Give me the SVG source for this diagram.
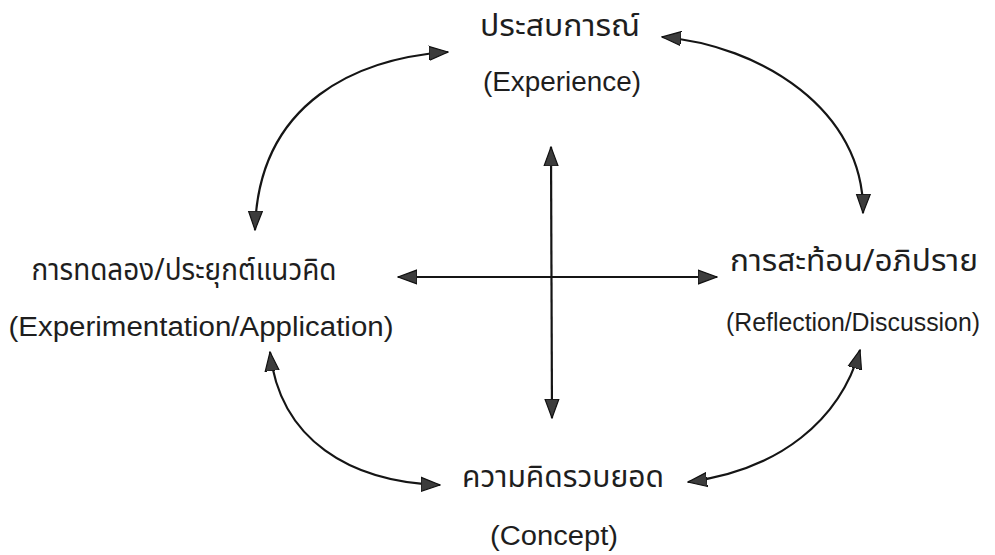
<svg xmlns="http://www.w3.org/2000/svg" width="995" height="555" viewBox="0 0 995 555">
<style>
.th{font-family:"Noto Sans Thai","Noto Serif Thai","Loma","Garuda","Tlwg Typo","Noto Sans","DejaVu Sans",sans-serif;font-size:30px;fill:#1e1e1e;text-anchor:middle}
.en{font-family:"Liberation Sans",Arial,sans-serif;font-size:27px;fill:#1e1e1e;text-anchor:middle}
.c{fill:none;stroke:#151515;stroke-width:2.2;marker-start:url(#ah);marker-end:url(#ah)}
</style>
<defs>
<marker id="ah" markerUnits="userSpaceOnUse" markerWidth="20" markerHeight="16" refX="19" refY="8" orient="auto-start-reverse">
<path d="M0,1 L19,8 L0,15 Z" fill="#3c3c3c" stroke="#111" stroke-width="1.2"/>
</marker>
</defs>
<rect width="995" height="555" fill="#fff"/>
<g id="connectors">
<path class="c" d="M448,52 C360,58 258,100 255,230"/>
<path class="c" d="M662,37 C760,45 865,110 863,213"/>
<path class="c" d="M270,352 C280,440 350,482 440,485"/>
<path class="c" d="M860,350 C840,420 780,470 688,482"/>
<path class="c" d="M551,147 L552,418"/>
<path class="c" d="M398,277 L717,277"/>
</g>
<g id="experience">
<text class="th" x="560" y="36" textLength="160" lengthAdjust="spacingAndGlyphs">ประสบการณ์</text>
<text class="en" x="562" y="91" textLength="158" lengthAdjust="spacingAndGlyphs">(Experience)</text>
</g>
<g id="application">
<text class="th" x="184" y="280" textLength="305" lengthAdjust="spacingAndGlyphs">การทดลอง/ประยุกต์แนวคิด</text>
<text class="en" x="201" y="336" textLength="385" lengthAdjust="spacingAndGlyphs">(Experimentation/Application)</text>
</g>
<g id="reflection">
<text class="th" x="854" y="271" textLength="248" lengthAdjust="spacingAndGlyphs">การสะท้อน/อภิปราย</text>
<text class="en" x="853" y="331" style="font-size:26px" textLength="254" lengthAdjust="spacingAndGlyphs">(Reflection/Discussion)</text>
</g>
<g id="concept">
<text class="th" x="563" y="487" textLength="202" lengthAdjust="spacingAndGlyphs">ความคิดรวบยอด</text>
<text class="en" x="554" y="545" textLength="128" lengthAdjust="spacingAndGlyphs">(Concept)</text>
</g>
</svg>
